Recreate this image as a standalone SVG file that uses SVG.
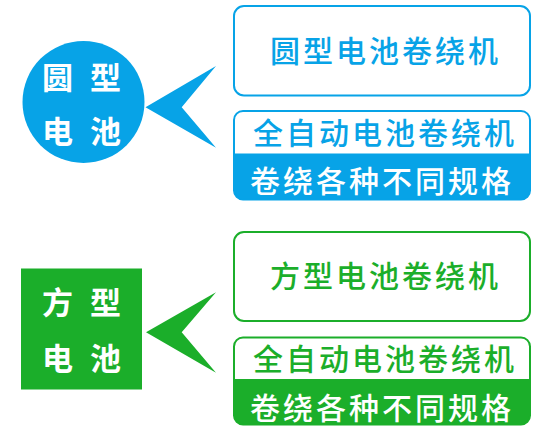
<svg xmlns="http://www.w3.org/2000/svg" width="539" height="429" viewBox="0 0 539 429">
<style>
.t{font-family:"Noto Sans CJK SC","Noto Sans",sans-serif;font-size:30px;font-weight:500;letter-spacing:3px}
.lbl{font-family:"Noto Sans CJK SC","Noto Sans",sans-serif;font-size:31px;font-weight:bold;fill:#fff;letter-spacing:17px}
.b{fill:#07A3E7}
.g{fill:#1BAE2A}
.bs{fill:#fff;stroke:#07A3E7;stroke-width:2}
.gs{fill:#fff;stroke:#1BAE2A;stroke-width:2}
</style>
<rect width="539" height="429" fill="#fff"/>
<g id="round-battery">
<circle class="b" cx="83.5" cy="102" r="61"/>
<text class="lbl" x="42" y="89">圆型</text>
<text class="lbl" x="42" y="143">电池</text>
</g>
<g id="square-battery">
<rect class="g" x="21" y="268.5" width="121" height="121"/>
<text class="lbl" x="42" y="314">方型</text>
<text class="lbl" x="42" y="370">电池</text>
</g>
<g id="connectors">
<path class="b" d="M145.5 107.3 L216 66 L181.7 107.3 L216 147.7 Z"/>
<path class="g" d="M146 332.3 L216 292.3 L181.7 332.3 L216 372.7 Z"/>
</g>
<g id="round-winder">
<rect class="bs" x="234" y="6" width="296" height="89.5" rx="10"/>
<text class="t" x="270" y="62" fill="#07A3E7">圆型电池卷绕机</text>
</g>
<g id="round-auto">
<path class="b" d="M234 153.5 H530 V191 A9 9 0 0 1 521 200 H243 A9 9 0 0 1 234 191 Z"/>
<rect x="234" y="111" width="296" height="88.5" rx="9" fill="none" stroke="#07A3E7" stroke-width="2"/>
<text class="t" x="253" y="144" fill="#07A3E7">全自动电池卷绕机</text>
<text class="t" x="250" y="192" fill="#fff">卷绕各种不同规格</text>
</g>
<g id="square-winder">
<rect class="gs" x="234" y="232" width="296" height="89" rx="10"/>
<text class="t" x="270" y="287" fill="#1BAE2A">方型电池卷绕机</text>
</g>
<g id="square-auto">
<path class="g" d="M234 379 H530 V416 A9 9 0 0 1 521 425 H243 A9 9 0 0 1 234 416 Z"/>
<rect x="234" y="337.5" width="296" height="87" rx="9" fill="none" stroke="#1BAE2A" stroke-width="2"/>
<text class="t" x="253" y="370" fill="#1BAE2A">全自动电池卷绕机</text>
<text class="t" x="250" y="419" fill="#fff">卷绕各种不同规格</text>
</g>
</svg>
